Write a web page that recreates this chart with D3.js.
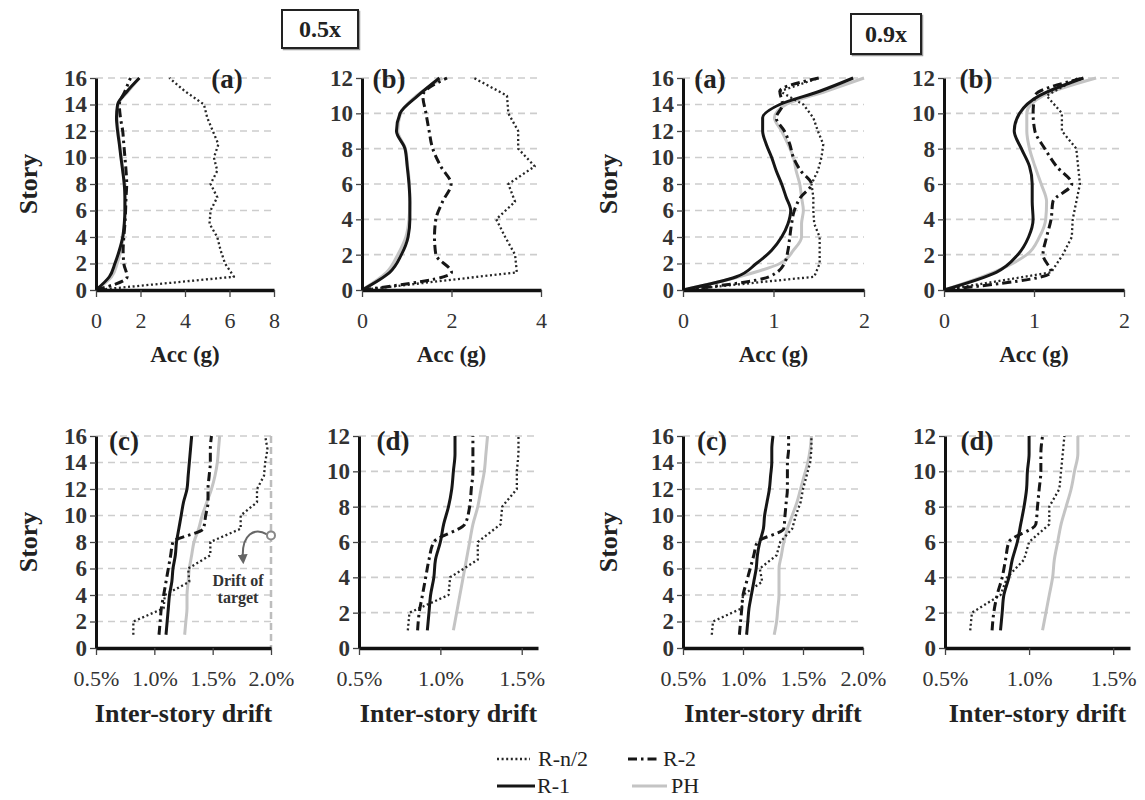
<!DOCTYPE html>
<html><head><meta charset="utf-8">
<script src="https://cdn.jsdelivr.net/npm/d3@7"></script>
<style>
body{margin:0;background:#fff;}
svg{display:block;font-family:"Liberation Serif","Times New Roman",serif;}
</style></head><body>
<svg id="chart" width="1145" height="800"></svg>
<script>
// ---------- categories ----------
const accStories16 = [0,1,2,3,4,5,6,7,8,9,10,11,12,13,14,15,16];
const accStories12 = [0,1,2,3,4,5,6,7,8,9,10,11,12];
const driftStories16 = [1,2,3,4,5,6,7,8,9,10,11,12,13,14,15,16];
const driftStories12 = [1,2,3,4,5,6,7,8,9,10,11,12];
const seriesNames = ["R-n/2","R-2","R-1","PH"];

// ---------- tick labels ----------
const yTicks16 = [0,2,4,6,8,10,12,14,16];
const yTicks12 = [0,2,4,6,8,10,12];
const accTicks8 = [0,2,4,6,8];
const accTicks4 = [0,2,4];
const accTicks2 = [0,1,2];
const driftTicks20 = [0.5,1.0,1.5,2.0];
const driftTicks15 = [0.5,1.0,1.5];

// ---------- 0.5x (a) 16-story acceleration (g) ----------
const acc05a_Rn2 = [0,6.2,5.8,5.6,5.45,5.1,5.15,5.45,5.15,5.45,5.3,5.5,5.25,5.0,4.85,4.0,3.3];
const acc05a_R2  = [0,1.4,1.25,1.22,1.25,1.3,1.33,1.35,1.38,1.35,1.3,1.25,1.2,1.1,1.05,1.3,1.55];
const acc05a_R1  = [0,0.6,0.85,1.05,1.2,1.27,1.3,1.3,1.27,1.2,1.12,1.05,0.97,0.92,0.97,1.4,1.95];
const acc05a_PH  = [0,0.7,0.95,1.12,1.23,1.28,1.3,1.3,1.27,1.21,1.14,1.07,1.0,0.95,1.0,1.45,1.95];
// ---------- 0.5x (b) 12-story acceleration ----------
const acc05b_Rn2 = [0,3.46,3.42,3.2,3.0,3.42,3.27,3.86,3.49,3.49,3.27,3.24,2.5];
const acc05b_R2  = [0,2.0,1.65,1.62,1.65,1.8,1.99,1.76,1.58,1.5,1.43,1.36,1.9];
const acc05b_R1  = [0,0.62,0.88,1.03,1.07,1.07,1.05,1.01,0.96,0.77,0.85,1.25,1.73];
const acc05b_PH  = [0,0.55,0.8,0.98,1.05,1.07,1.06,1.02,0.97,0.8,0.86,1.22,1.8];
// ---------- 0.9x (a) 16-story acceleration ----------
const acc09a_Rn2 = [0,1.45,1.51,1.51,1.51,1.45,1.44,1.44,1.42,1.49,1.53,1.55,1.49,1.44,1.33,1.07,1.5];
const acc09a_R2  = [0,0.95,1.12,1.16,1.18,1.2,1.23,1.3,1.42,1.3,1.22,1.18,1.12,1.03,1.1,1.07,1.5];
const acc09a_R1  = [0,0.59,0.81,0.98,1.09,1.16,1.19,1.14,1.09,1.03,0.98,0.92,0.88,0.88,1.07,1.51,1.88];
const acc09a_PH  = [0,0.62,1.07,1.22,1.31,1.31,1.33,1.31,1.29,1.25,1.22,1.16,1.09,1.01,1.14,1.58,2.0];
// ---------- 0.9x (b) 12-story acceleration ----------
const acc09b_Rn2 = [0,1.19,1.32,1.42,1.43,1.47,1.51,1.49,1.47,1.31,1.31,1.14,1.49];
const acc09b_R2  = [0,1.19,1.1,1.14,1.19,1.21,1.42,1.25,1.12,1.01,0.99,1.01,1.55];
const acc09b_R1  = [0,0.58,0.82,0.94,0.99,0.98,0.98,0.95,0.86,0.78,0.84,1.06,1.55];
const acc09b_PH  = [0,0.55,0.92,1.06,1.13,1.14,1.08,1.01,0.95,0.92,0.92,1.1,1.69];

// ---------- 0.5x (c) 16-story drift (%) ----------
const drift05c_Rn2 = [0.82,0.82,1.08,1.09,1.30,1.29,1.48,1.48,1.74,1.74,1.88,1.88,1.94,1.95,1.97,1.95];
const drift05c_R2  = [1.04,1.05,1.06,1.08,1.10,1.12,1.14,1.16,1.42,1.44,1.46,1.46,1.47,1.48,1.48,1.49];
const drift05c_R1  = [1.10,1.11,1.12,1.13,1.15,1.16,1.18,1.19,1.21,1.23,1.25,1.28,1.29,1.30,1.31,1.32];
const drift05c_PH  = [1.26,1.27,1.28,1.28,1.29,1.30,1.32,1.34,1.38,1.41,1.45,1.49,1.52,1.54,1.55,1.56];
const drift05c_target = 2.0;
const drift05c_targetStory = 8.5;
// ---------- 0.5x (d) 12-story drift ----------
const drift05d_Rn2 = [0.80,0.81,1.05,1.06,1.23,1.23,1.37,1.38,1.47,1.47,1.48,1.48];
const drift05d_R2  = [0.86,0.87,0.89,0.91,0.93,0.96,1.15,1.18,1.19,1.20,1.20,1.20];
const drift05d_R1  = [0.92,0.93,0.94,0.96,0.97,1.00,1.02,1.05,1.07,1.08,1.09,1.09];
const drift05d_PH  = [1.08,1.10,1.12,1.14,1.16,1.18,1.20,1.23,1.25,1.27,1.28,1.29];
// ---------- 0.9x (c) 16-story drift ----------
const drift09c_Rn2 = [0.74,0.75,0.99,1.00,1.16,1.14,1.28,1.31,1.41,1.44,1.48,1.50,1.53,1.56,1.57,1.57];
const drift09c_R2  = [0.97,0.98,0.99,1.00,1.03,1.06,1.09,1.12,1.34,1.35,1.36,1.37,1.37,1.37,1.38,1.38];
const drift09c_R1  = [1.03,1.04,1.05,1.07,1.09,1.11,1.12,1.14,1.17,1.18,1.20,1.22,1.23,1.24,1.24,1.25];
const drift09c_PH  = [1.26,1.28,1.29,1.30,1.30,1.30,1.32,1.34,1.37,1.41,1.45,1.48,1.51,1.54,1.56,1.57];
// ---------- 0.9x (d) 12-story drift ----------
const drift09d_Rn2 = [0.65,0.66,0.83,0.87,0.97,1.00,1.12,1.12,1.18,1.19,1.20,1.21];
const drift09d_R2  = [0.78,0.79,0.81,0.84,0.86,0.88,1.04,1.05,1.06,1.07,1.07,1.08];
const drift09d_R1  = [0.83,0.84,0.85,0.88,0.90,0.93,0.95,0.97,0.985,0.99,1.00,1.00];
const drift09d_PH  = [1.08,1.10,1.12,1.14,1.15,1.17,1.19,1.22,1.25,1.27,1.29,1.29];

// ---------- drawing ----------
const svg = d3.select("#chart");
svg.append("rect").attr("width",1145).attr("height",800).attr("fill","#fff");
const FONT = '"Liberation Serif","Times New Roman",serif';

const styles = {
  Rn2:{stroke:"#262626", width:2.3, dash:"2,2.6", curve:d3.curveLinear},
  R2:{stroke:"#161616", width:3, dash:"9,4,2.5,4", curve:d3.curveMonotoneY},
  R1:{stroke:"#161616", width:3, dash:null, curve:d3.curveMonotoneY},
  PH:{stroke:"#c4c4c4", width:3, dash:null, curve:d3.curveMonotoneY}
};
const drawOrder = ["PH","Rn2","R2","R1"];

const fmtAcc = d3.format("d");
const fmtDrift = d => d3.format(".1f")(d) + "%";

const TOP = {y0:78, y1:290, lblBase:88, tickPad:15, titleBase:362};
const BOT = {y0:436, y1:648, lblBase:450, tickPad:15, titleBase:722};

const panels = [
  {row:TOP, x0:96, x1:274, xDomain:[0,8], xTicks:accTicks8, fmt:fmtAcc, yMax:16, yTicks:yTicks16,
   stories:accStories16, s:{Rn2:acc05a_Rn2,R2:acc05a_R2,R1:acc05a_R1,PH:acc05a_PH}, label:"(a)", lx:227, title:"Acc (g)", tsize:23, storyX:37},
  {row:TOP, x0:362, x1:541, xDomain:[0,4], xTicks:accTicks4, fmt:fmtAcc, yMax:12, yTicks:yTicks12,
   stories:accStories12, s:{Rn2:acc05b_Rn2,R2:acc05b_R2,R1:acc05b_R1,PH:acc05b_PH}, label:"(b)", lx:389, title:"Acc (g)", tsize:23},
  {row:TOP, x0:683, x1:864, xDomain:[0,2], xTicks:accTicks2, fmt:fmtAcc, yMax:16, yTicks:yTicks16,
   stories:accStories16, s:{Rn2:acc09a_Rn2,R2:acc09a_R2,R1:acc09a_R1,PH:acc09a_PH}, label:"(a)", lx:710, title:"Acc (g)", tsize:23, storyX:617},
  {row:TOP, x0:944, x1:1124, xDomain:[0,2], xTicks:accTicks2, fmt:fmtAcc, yMax:12, yTicks:yTicks12,
   stories:accStories12, s:{Rn2:acc09b_Rn2,R2:acc09b_R2,R1:acc09b_R1,PH:acc09b_PH}, label:"(b)", lx:976, title:"Acc (g)", tsize:23},
  {row:BOT, x0:96, x1:271, xDomain:[0.5,2.0], xTicks:driftTicks20, fmt:fmtDrift, yMax:16, yTicks:yTicks16,
   stories:driftStories16, s:{Rn2:drift05c_Rn2,R2:drift05c_R2,R1:drift05c_R1,PH:drift05c_PH}, label:"(c)", lx:124, title:"Inter-story drift", tsize:26, storyX:37, target:true},
  {row:BOT, x0:359, x1:538, xDomain:[0.5,1.6], xTicks:driftTicks15, fmt:fmtDrift, yMax:12, yTicks:yTicks12,
   stories:driftStories12, s:{Rn2:drift05d_Rn2,R2:drift05d_R2,R1:drift05d_R1,PH:drift05d_PH}, label:"(d)", lx:393, title:"Inter-story drift", tsize:26},
  {row:BOT, x0:683, x1:863, xDomain:[0.5,2.0], xTicks:driftTicks20, fmt:fmtDrift, yMax:16, yTicks:yTicks16,
   stories:driftStories16, s:{Rn2:drift09c_Rn2,R2:drift09c_R2,R1:drift09c_R1,PH:drift09c_PH}, label:"(c)", lx:712, title:"Inter-story drift", tsize:26, storyX:617},
  {row:BOT, x0:945, x1:1130, xDomain:[0.5,1.6], xTicks:driftTicks15, fmt:fmtDrift, yMax:12, yTicks:yTicks12,
   stories:driftStories12, s:{Rn2:drift09d_Rn2,R2:drift09d_R2,R1:drift09d_R1,PH:drift09d_PH}, label:"(d)", lx:977, title:"Inter-story drift", tsize:26}
];

const defs = svg.append("defs");
defs.append("marker").attr("id","arrow").attr("viewBox","0 0 10 10").attr("refX",5).attr("refY",5)
  .attr("markerWidth",5).attr("markerHeight",5).attr("orient","auto-start-reverse")
  .append("path").attr("d","M0,0 L10,5 L0,10 z").attr("fill","#666");

panels.forEach(p => {
  const g = svg.append("g");
  const x = d3.scaleLinear().domain(p.xDomain).range([p.x0, p.x1]);
  const y = d3.scaleLinear().domain([0, p.yMax]).range([p.row.y1, p.row.y0]);

  // gridlines
  g.append("g").selectAll("line").data(p.yTicks.filter(t => t > 0)).join("line")
    .attr("x1", p.x0).attr("x2", p.x1).attr("y1", d => y(d)).attr("y2", d => y(d))
    .attr("stroke", "#cdcdcd").attr("stroke-width", 1.6).attr("stroke-dasharray", "7,5");

  // target drift line
  if (p.target) {
    g.append("line").attr("x1", x(drift05c_target)).attr("x2", x(drift05c_target))
      .attr("y1", y(p.yMax)).attr("y2", y(0))
      .attr("stroke", "#bdbdbd").attr("stroke-width", 2.5).attr("stroke-dasharray", "7,4");
  }

  // series
  drawOrder.forEach(k => {
    const st = styles[k];
    const pts = p.stories.map((s, i) => ({s, v: p.s[k][i]}));
    const line = d3.line().x(d => x(d.v)).y(d => y(d.s)).curve(st.curve);
    g.append("path").datum(pts).attr("d", line).attr("fill", "none")
      .attr("stroke", st.stroke).attr("stroke-width", st.width)
      .attr("stroke-dasharray", st.dash).attr("stroke-linejoin", "round");
  });

  // x axis
  const xa = g.append("g").attr("transform", `translate(0,${p.row.y1})`)
    .call(d3.axisBottom(x).tickValues(p.xTicks).tickFormat(p.fmt).tickSize(7).tickSizeOuter(0).tickPadding(p.row.tickPad));
  xa.attr("font-family", FONT).attr("font-size", 22);
  xa.select(".domain").attr("stroke", "#111").attr("stroke-width", 3.5);
  xa.selectAll(".tick line").attr("stroke", "#444").attr("stroke-width", 1.3);
  xa.selectAll(".tick text").attr("fill", "#333");

  // y axis
  const ya = g.append("g").attr("transform", `translate(${p.x0},0)`)
    .call(d3.axisLeft(y).tickValues(p.yTicks).tickSize(6).tickSizeOuter(0).tickPadding(3));
  ya.attr("font-family", FONT).attr("font-size", 23).attr("font-weight", "bold");
  ya.select(".domain").attr("stroke", "#111").attr("stroke-width", 3);
  ya.selectAll(".tick line").attr("stroke", "#444").attr("stroke-width", 1.3);
  ya.selectAll(".tick text").attr("fill", "#333");

  // panel label
  g.append("text").attr("x", p.lx).attr("y", p.row.lblBase).attr("text-anchor", "middle")
    .attr("font-family", FONT).attr("font-size", 27).attr("font-weight", "bold").attr("fill", "#222").text(p.label);

  // axis title
  g.append("text").attr("x", (p.x0 + p.x1) / 2).attr("y", p.row.titleBase).attr("text-anchor", "middle")
    .attr("font-family", FONT).attr("font-size", p.tsize).attr("font-weight", "bold").attr("fill", "#222").text(p.title);

  if (p.storyX) {
    const cy = (p.row.y0 + p.row.y1) / 2;
    g.append("text").attr("transform", `translate(${p.storyX},${cy}) rotate(-90)`).attr("text-anchor", "middle")
      .attr("font-family", FONT).attr("font-size", 26).attr("font-weight", "bold").attr("fill", "#222").text("Story");
  }

  if (p.target) {
    const cx = x(drift05c_target), cy = y(drift05c_targetStory);
    g.append("path").attr("d", `M${cx-4},${cy-1} C${cx-16},${cy-8} ${cx-30},${cy-2} ${cx-28},${cy+24}`)
      .attr("fill", "none").attr("stroke", "#666").attr("stroke-width", 2).attr("marker-end", "url(#arrow)");
    g.append("circle").attr("cx", cx).attr("cy", cy).attr("r", 4).attr("fill", "#fff").attr("stroke", "#888").attr("stroke-width", 2);
    g.append("text").attr("x", 238).attr("y", 586).attr("text-anchor", "middle").attr("font-family", FONT)
      .attr("font-size", 16).attr("font-weight", "bold").attr("fill", "#333").text("Drift of");
    g.append("text").attr("x", 238).attr("y", 603).attr("text-anchor", "middle").attr("font-family", FONT)
      .attr("font-size", 16).attr("font-weight", "bold").attr("fill", "#333").text("target");
  }
});

// title boxes
[["0.5x", 282, 10, 76, 38], ["0.9x", 851, 14, 70, 40]].forEach(([t, bx, by, bw, bh]) => {
  svg.append("rect").attr("x", bx + 1.5).attr("y", by + 1.5).attr("width", bw).attr("height", bh).attr("fill", "none").attr("stroke", "#999").attr("stroke-width", 1.5);
  svg.append("rect").attr("x", bx).attr("y", by).attr("width", bw).attr("height", bh).attr("fill", "#fff").attr("stroke", "#222").attr("stroke-width", 2);
  svg.append("text").attr("x", bx + bw / 2).attr("y", by + bh / 2 + 8).attr("text-anchor", "middle")
    .attr("font-family", FONT).attr("font-size", 24).attr("font-weight", "bold").attr("fill", "#222").text(t);
});

// legend
const legendItems = [
  {k:"Rn2", name:seriesNames[0], x1:497, x2:530, y:759, tx:538},
  {k:"R2",  name:seriesNames[1], x1:628, x2:660, y:759, tx:663},
  {k:"R1",  name:seriesNames[2], x1:497, x2:535, y:786, tx:537},
  {k:"PH",  name:seriesNames[3], x1:632, x2:667, y:786, tx:671}
];
const lg = svg.append("g");
legendItems.forEach(it => {
  const st = styles[it.k];
  lg.append("line").attr("x1", it.x1).attr("x2", it.x2).attr("y1", it.y).attr("y2", it.y)
    .attr("stroke", st.stroke).attr("stroke-width", st.width).attr("stroke-dasharray", st.dash);
  lg.append("text").attr("x", it.tx).attr("y", it.y + 7).attr("font-family", FONT).attr("font-size", 22)
    .attr("fill", "#222").text(it.name);
});
</script>
</body></html>
